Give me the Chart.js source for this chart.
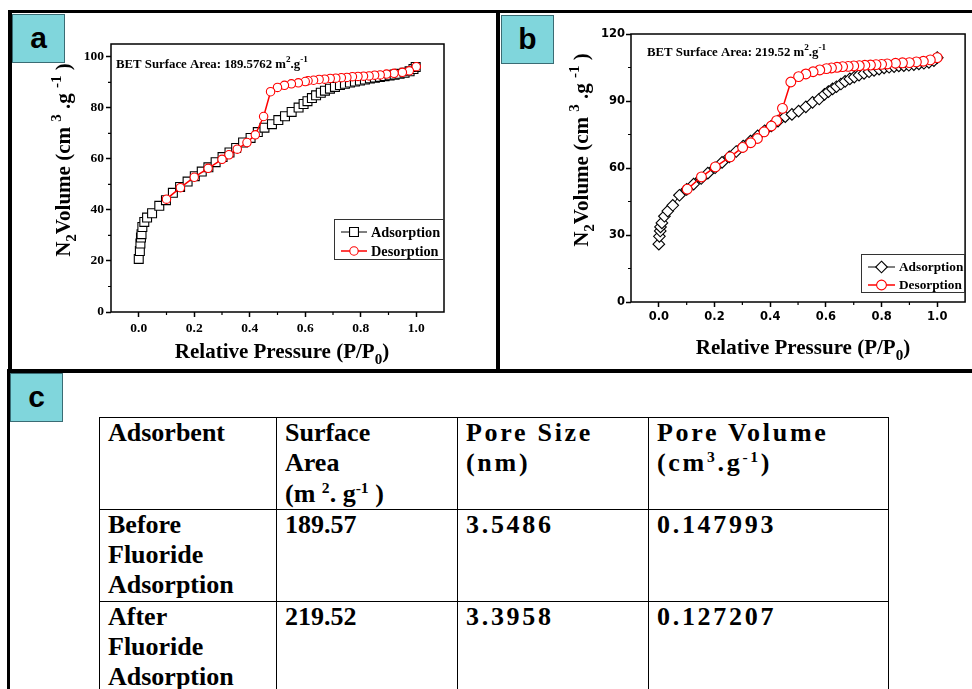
<!DOCTYPE html>
<html lang="en">
<head>
<meta charset="UTF-8">
<title>BET isotherms</title>
<script src="https://cdn.jsdelivr.net/npm/chart.js"></script>
<style>
  body {
    margin: 0;
    width: 972px;
    height: 689px;
    overflow: hidden;
    position: relative;
    background: #fff;
    font-family: 'Liberation Serif', 'Times New Roman', serif;
  }
  .bar { position: absolute; background: #000; }
  .tag {
    position: absolute;
    box-sizing: border-box;
    width: 53px;
    height: 49px;
    background: #80d6dc;
    border: 1px solid #3a6c74;
    font: bold 30px 'Liberation Sans', Arial, sans-serif;
    line-height: 46px;
    text-align: center;
    color: #000;
  }
  canvas { position: absolute; top: 0; z-index: 2; }
  #tbl {
    position: absolute;
    left: 99px;
    top: 417px;
    width: 789px;
    border-collapse: collapse;
    table-layout: fixed;
    font-weight: bold;
    font-size: 26px;
    line-height: 30.3px;
    color: #000;
  }
  #tbl td {
    border: 1.5px solid #000;
    height: 89.5px;
    padding: 0 8px;
    vertical-align: top;
    box-sizing: border-box;
  }
  #tbl td.sp { letter-spacing: 2.7px; }
  #tbl sup { font-size: 0.6em; vertical-align: 0.6em; line-height: 0; }
</style>
</head>
<body>
  <!-- panel frames -->
  <div class="bar" style="left:8px; top:10px; width:964px; height:3px;"></div>
  <div class="bar" style="left:8px; top:10px; width:4px; height:363px;"></div>
  <div class="bar" style="left:496px; top:10px; width:4px; height:363px;"></div>
  <div class="bar" style="left:7px; top:369px; width:965px; height:4px;"></div>
  <div class="bar" style="left:7px; top:369px; width:3px; height:320px;"></div>

  <div class="tag" style="left:12px; top:14px;">a</div>
  <div class="tag" style="left:501px; top:15px;">b</div>
  <div class="tag" style="left:10px; top:373px;">c</div>

  <canvas id="chartA" width="500" height="370" style="left:0;"></canvas>
  <canvas id="chartB" width="472" height="370" style="left:500px;"></canvas>

  <table id="tbl">
    <colgroup>
      <col style="width:177px"><col style="width:181px"><col style="width:191px"><col style="width:240px">
    </colgroup>
    <tbody id="tblBody">
      <tr>
        <td>Adsorbent</td>
        <td>Surface<br>Area<br>(m <sup>2</sup>. g<sup>-1</sup> )</td>
        <td class="sp">Pore Size<br>(nm)</td>
        <td class="sp">Pore Volume<br>(cm<sup>3</sup>.g<sup>-1</sup>)</td>
      </tr>
    </tbody>
  </table>

<script>
// ---- panel a : before fluoride adsorption ----
const aAdsP = [0, 0.004, 0.006, 0.008, 0.01, 0.013, 0.02, 0.03, 0.048, 0.074, 0.098, 0.123, 0.149, 0.176,
  0.202, 0.227, 0.251, 0.277, 0.302, 0.327, 0.351, 0.376, 0.403, 0.429, 0.453, 0.48, 0.503, 0.527, 0.551,
  0.576, 0.594, 0.608, 0.624, 0.639, 0.656, 0.671, 0.689, 0.707, 0.725, 0.743, 0.761, 0.779, 0.797, 0.815,
  0.833, 0.851, 0.869, 0.886, 0.904, 0.922, 0.94, 0.958, 0.976, 0.99, 0.998];
const aAdsV = [20.8, 23.9, 26.8, 29.2, 30.5, 33.3, 35.3, 37.0, 38.7, 41.6, 43.8, 46.7, 49.0, 51.1,
  53.2, 55.0, 56.7, 58.7, 60.7, 62.5, 64.3, 66.4, 68.2, 70.5, 72.2, 73.6, 75.2, 76.7, 78.4,
  80.1, 81.5, 82.6, 83.8, 84.9, 85.9, 86.7, 87.5, 88.2, 88.9, 89.4, 89.9, 90.3, 90.7, 91.1,
  91.5, 91.8, 92.1, 92.4, 92.7, 93.0, 93.3, 93.7, 94.3, 95.2, 96.0];
const aDesP = [1.0, 0.975, 0.95, 0.92, 0.893, 0.87, 0.85, 0.83, 0.81, 0.79, 0.77, 0.75, 0.73, 0.71, 0.69,
  0.67, 0.65, 0.63, 0.61, 0.6, 0.575, 0.55, 0.525, 0.5, 0.475, 0.45, 0.42, 0.39, 0.355, 0.325, 0.3,
  0.25, 0.2, 0.15, 0.1];
const aDesV = [96.1, 94.5, 93.9, 93.5, 93.2, 92.9, 92.8, 92.5, 92.4, 92.3, 92.2, 91.9, 91.8, 91.6, 91.5,
  91.2, 91.1, 90.8, 90.6, 90.3, 89.8, 89.4, 88.8, 88.0, 86.3, 76.6, 69.4, 66.4, 63.8, 61.6, 59.8,
  56.3, 52.8, 48.7, 44.2];

// ---- panel b : after fluoride adsorption ----
const bAdsP = [0, 0.002, 0.005, 0.006, 0.011, 0.02, 0.032, 0.05, 0.074, 0.1, 0.125, 0.152, 0.176, 0.202,
  0.227, 0.253, 0.278, 0.303, 0.329, 0.355, 0.38, 0.404, 0.428, 0.454, 0.478, 0.502, 0.528, 0.552, 0.576,
  0.595, 0.609, 0.624, 0.638, 0.654, 0.669, 0.686, 0.702, 0.719, 0.737, 0.755, 0.773, 0.791, 0.809, 0.827,
  0.845, 0.862, 0.88, 0.898, 0.916, 0.934, 0.952, 0.97, 0.988, 1.0];
const bAdsV = [25.9, 29.4, 31.8, 33.6, 35.4, 38.4, 40.7, 43.3, 47.8, 50.4, 52.8, 55.3, 57.7, 60.1,
  62.5, 65.0, 67.4, 69.8, 72.0, 74.4, 76.7, 78.8, 81.0, 83.0, 84.0, 85.5, 87.4, 89.4, 90.9,
  93.0, 94.2, 95.4, 96.4, 97.6, 98.8, 99.9, 100.7, 101.6, 102.4, 103.1, 103.7, 104.3, 104.8, 105.1,
  105.4, 105.7, 105.8, 106.0, 106.3, 106.6, 106.9, 107.3, 108.1, 109.4];
const bDesP = [1.0, 0.975, 0.95, 0.925, 0.9, 0.875, 0.85, 0.82, 0.8, 0.78, 0.76, 0.74, 0.72, 0.70, 0.68,
  0.66, 0.64, 0.62, 0.602, 0.578, 0.554, 0.528, 0.502, 0.474, 0.444, 0.423, 0.404, 0.378, 0.354, 0.33,
  0.301, 0.256, 0.203, 0.153, 0.102];
const bDesV = [109.4, 108.4, 107.8, 107.5, 107.2, 107.1, 106.9, 106.6, 106.4, 106.3, 106.1, 106.0, 105.8, 105.7, 105.5,
  105.4, 105.1, 104.8, 104.5, 103.9, 103.1, 102.1, 100.9, 98.5, 86.7, 81.2, 78.8, 76.2, 73.2, 71.3,
  69.2, 65.0, 60.5, 56.0, 50.5];

// ticks
const xTicks = [0, 0.2, 0.4, 0.6, 0.8, 1.0];
const xMinor = [0.1, 0.3, 0.5, 0.7, 0.9];
const aYTicks = [0, 20, 40, 60, 80, 100];
const aYMinor = [10, 30, 50, 70, 90];
const bYTicks = [0, 30, 60, 90, 120];
const bYMinor = [15, 45, 75, 105];

const seriesNames = ['Adsorption', 'Desorption'];
const aBET = '189.5762';
const bBET = '219.52';

// table (panel c)
const adsorbents = ['Before<br>Fluoride<br>Adsorption', 'After<br>Fluoride<br>Adsorption'];
const surfaceAreas = ['189.57', '219.52'];
const poreSizes = ['3.5486', '3.3958'];
const poreVolumes = ['0.147993', '0.127207'];

const body = document.getElementById('tblBody');
adsorbents.forEach((name, i) => {
  const tr = document.createElement('tr');
  tr.innerHTML = '<td>' + name + '</td><td>' + surfaceAreas[i] + '</td><td class="sp">' +
    poreSizes[i] + '</td><td class="sp">' + poreVolumes[i] + '</td>';
  body.appendChild(tr);
});

const SERIF = "'Liberation Serif', 'Times New Roman', serif";
const SANS = "'DejaVu Sans', Verdana, sans-serif";

function pts(xs, ys) {
  return xs.map((x, i) => ({ x: x, y: ys[i] }));
}

// text with sub / superscripts
function segWidth(ctx, segs, size) {
  let w = 0;
  segs.forEach(s => {
    ctx.font = 'bold ' + (s.k ? size * 0.72 : size) + 'px ' + SERIF;
    w += ctx.measureText(s.t).width;
  });
  return w;
}

function drawRich(ctx, segs, x, y, size, align) {
  let cx = align === 'center' ? x - segWidth(ctx, segs, size) / 2 : x;
  ctx.textAlign = 'left';
  ctx.textBaseline = 'alphabetic';
  ctx.fillStyle = '#000';
  segs.forEach(s => {
    ctx.font = 'bold ' + (s.k ? size * 0.72 : size) + 'px ' + SERIF;
    const dy = s.k === 'sup' ? -size * 0.45 : (s.k === 'sub' ? size * 0.3 : 0);
    ctx.fillText(s.t, cx, y + dy);
    cx += ctx.measureText(s.t).width;
  });
}

function marker(ctx, style, x, y, r, color, lw) {
  ctx.beginPath();
  if (style === 'rect') {
    const s = r * Math.SQRT1_2;
    ctx.rect(x - s, y - s, 2 * s, 2 * s);
  } else if (style === 'rectRot') {
    ctx.moveTo(x, y - r);
    ctx.lineTo(x + r, y);
    ctx.lineTo(x, y + r);
    ctx.lineTo(x - r, y);
    ctx.closePath();
  } else {
    ctx.arc(x, y, r, 0, Math.PI * 2);
  }
  ctx.fillStyle = '#fff';
  ctx.fill();
  ctx.strokeStyle = color;
  ctx.lineWidth = lw;
  ctx.stroke();
}

const xTitle = [{ t: 'Relative Pressure (P/P' }, { t: '0', k: 'sub' }, { t: ')' }];
const yTitle = [{ t: 'N' }, { t: '2', k: 'sub' }, { t: 'Volume (cm ' }, { t: '3', k: 'sup' },
  { t: ' .g ' }, { t: '-1', k: 'sup' }, { t: ' )' }];

const decor = {
  id: 'decor',
  afterDraw(chart, args, o) {
    const ctx = chart.ctx;
    const a = chart.chartArea;
    const sx = chart.scales.x, sy = chart.scales.y;
    ctx.save();
    // plot frame
    ctx.strokeStyle = '#000';
    ctx.lineWidth = 1.5;
    ctx.strokeRect(a.left, a.top, a.right - a.left, a.bottom - a.top);
    // minor ticks
    ctx.lineWidth = 1.2;
    ctx.beginPath();
    o.minorX.forEach(v => {
      const px = sx.getPixelForValue(v);
      ctx.moveTo(px, a.bottom);
      ctx.lineTo(px, a.bottom + 3);
    });
    o.minorY.forEach(v => {
      const py = sy.getPixelForValue(v);
      ctx.moveTo(a.left, py);
      ctx.lineTo(a.left - 3, py);
    });
    ctx.stroke();

    // axis titles
    drawRich(ctx, xTitle, o.xt[0], o.xt[1], o.titleSize, 'center');
    ctx.save();
    ctx.translate(o.yt[0], o.yt[1]);
    ctx.rotate(-Math.PI / 2);
    drawRich(ctx, yTitle, 0, 0, o.titleSize, 'center');
    ctx.restore();

    // BET note
    drawRich(ctx, [{ t: 'BET Surface Area: ' + o.bet + ' m' }, { t: '2', k: 'sup' }, { t: '.g' },
      { t: '-1', k: 'sup' }], o.betPos[0], o.betPos[1], o.betSize, 'left');

    // legend
    const L = o.legend;
    ctx.strokeStyle = '#333';
    ctx.lineWidth = 1;
    ctx.strokeRect(L.box[0] + 0.5, L.box[1] + 0.5, L.box[2], L.box[3]);
    chart.data.datasets.slice().sort((p, q) => p.legendIndex - q.legendIndex).forEach((ds, i) => {
      const y = L.rows[i];
      ctx.beginPath();
      ctx.moveTo(L.line[0], y);
      ctx.lineTo(L.line[1], y);
      ctx.strokeStyle = ds.borderColor;
      ctx.lineWidth = ds.borderWidth;
      ctx.stroke();
      marker(ctx, ds.pointStyle, (L.line[0] + L.line[1]) / 2, y, ds.pointRadius, ds.pointBorderColor, ds.pointBorderWidth);
      ctx.fillStyle = '#000';
      ctx.font = 'bold ' + L.size + 'px ' + SERIF;
      ctx.textBaseline = 'middle';
      ctx.fillText(ds.label, L.text, y + 1);
    });
    ctx.restore();
  }
};

function isotherm(id, cfg) {
  return new Chart(document.getElementById(id), {
    type: 'line',
    data: {
      datasets: [
        {
          label: seriesNames[0],
          legendIndex: 0,
          order: 1,
          data: pts(cfg.adsP, cfg.adsV),
          borderColor: '#000',
          borderWidth: 1,
          pointStyle: cfg.adsStyle,
          pointRadius: cfg.adsR,
          pointBackgroundColor: '#fff',
          pointBorderColor: '#000',
          pointBorderWidth: 1.1
        },
        {
          label: seriesNames[1],
          legendIndex: 1,
          order: 0,
          data: pts(cfg.desP, cfg.desV),
          borderColor: '#ff0000',
          borderWidth: 1.5,
          pointStyle: 'circle',
          pointRadius: cfg.desR,
          pointBackgroundColor: '#fff',
          pointBorderColor: '#ff0000',
          pointBorderWidth: 1.1
        }
      ]
    },
    options: {
      responsive: false,
      animation: false,
      layout: { padding: cfg.padding },
      plugins: {
        legend: { display: false },
        tooltip: { enabled: false },
        decor: cfg.decor
      },
      scales: {
        x: {
          type: 'linear',
          min: -0.1,
          max: 1.1,
          afterBuildTicks: s => { s.ticks = xTicks.map(v => ({ value: v })); },
          afterFit: s => { s.height = 30; },
          border: { display: false },
          grid: { drawOnChartArea: false, drawTicks: true, tickLength: 5, tickColor: '#000', tickWidth: 1.5 },
          ticks: {
            color: '#000',
            padding: cfg.xPad,
            maxRotation: 0,
            autoSkip: false,
            font: cfg.tickFont,
            callback: v => v.toFixed(1)
          }
        },
        y: {
          type: 'linear',
          min: 0,
          max: cfg.yMax,
          afterBuildTicks: s => { s.ticks = cfg.yTicks.map(v => ({ value: v })); },
          afterFit: s => { s.width = cfg.yWidth; },
          border: { display: false },
          grid: { drawOnChartArea: false, drawTicks: true, tickLength: 5, tickColor: '#000', tickWidth: 1.5 },
          ticks: {
            color: '#000',
            padding: cfg.yPad,
            autoSkip: false,
            font: cfg.tickFont,
            callback: v => String(v)
          }
        }
      }
    },
    plugins: [decor]
  });
}

isotherm('chartA', {
  adsP: aAdsP, adsV: aAdsV, desP: aDesP, desV: aDesV,
  adsStyle: 'rect', adsR: 6.3, desR: 4.2,
  yMax: 105, yTicks: aYTicks, yWidth: 60,
  padding: { top: 44, right: 56, bottom: 28, left: 51 },
  xPad: 3, yPad: 2,
  tickFont: { family: SERIF, size: 13.5, weight: 'bold' },
  decor: {
    minorX: xMinor, minorY: aYMinor,
    titleSize: 21, xt: [282, 358], yt: [70, 160],
    bet: aBET, betPos: [116, 68], betSize: 12.8,
    legend: { box: [334, 219, 109, 40], rows: [232, 251], line: [341, 367], text: 371, size: 14.3 }
  }
});

isotherm('chartB', {
  adsP: bAdsP, adsV: bAdsV, desP: bDesP, desV: bDesV,
  adsStyle: 'rectRot', adsR: 5.8, desR: 4.9,
  yMax: 120, yTicks: bYTicks, yWidth: 50,
  padding: { top: 34, right: 5, bottom: 38, left: 81 },
  xPad: 3, yPad: 1,
  tickFont: { family: SANS, size: 11.5, weight: 'bold' },
  decor: {
    minorX: xMinor, minorY: bYMinor,
    titleSize: 21, xt: [303, 354], yt: [88, 150],
    bet: bBET, betPos: [147, 56], betSize: 12.8,
    legend: { box: [361, 254, 103, 38], rows: [267, 285], line: [368, 395], text: 399, size: 13.3 }
  }
});
</script>
</body>
</html>
